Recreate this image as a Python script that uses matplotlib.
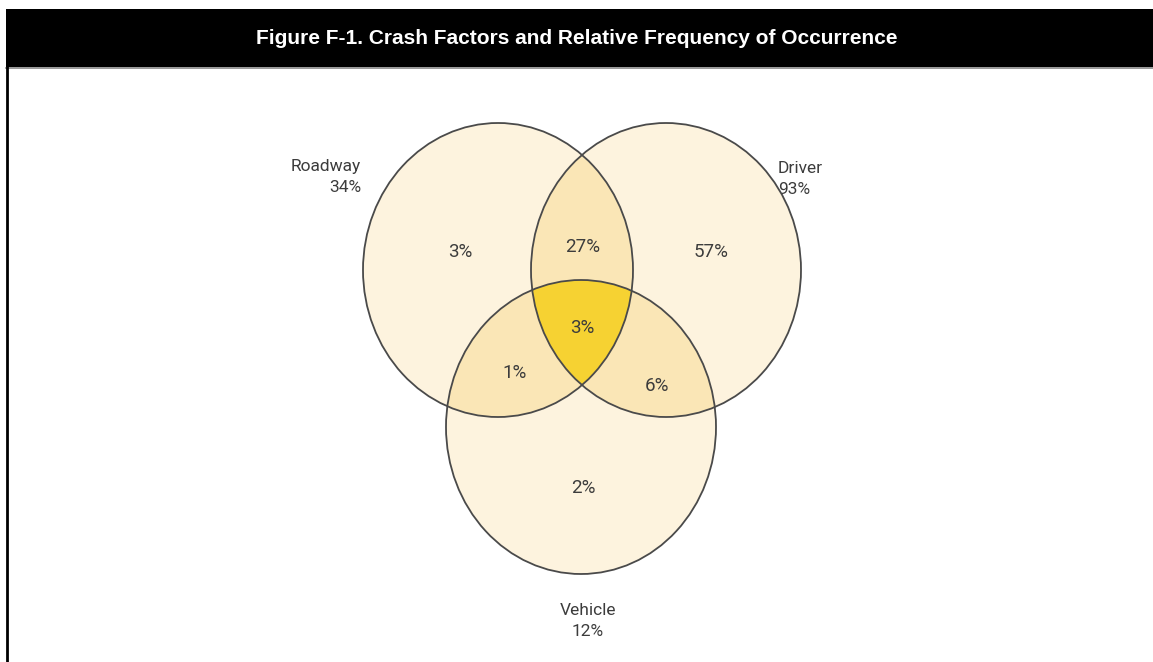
import matplotlib
matplotlib.use("Agg")
import matplotlib.pyplot as plt
import numpy as np
from matplotlib.patches import Ellipse, Polygon, Rectangle

# data
set_names = ['Roadway', 'Driver', 'Vehicle']
set_pct = [34, 93, 12]
# regions: tuple of set indices -> share of crashes (%)
region_keys = [(0,), (1,), (2,), (0, 1), (0, 2), (1, 2), (0, 1, 2)]
region_pct = [3, 57, 2, 27, 1, 6, 3]

title = 'Figure F-1. Crash Factors and Relative Frequency of Occurrence'

W, H = 1153, 662
centers = [(498, 270), (666, 270), (581, 427)]
RX, RY = 135, 147

pale = '#FDF3DE'
mid = '#FAE6B6'
strong = '#F6D232'
edge = '#4a4a4a'
txt = '#3c3c3c'


def ellipse_pts(c, n=1440):
    t = np.linspace(0, 2 * np.pi, n, endpoint=False)
    return np.column_stack([c[0] + RX * np.cos(t), c[1] + RY * np.sin(t)])


def inside(pts, c):
    return ((pts[:, 0] - c[0]) / RX) ** 2 + ((pts[:, 1] - c[1]) / RY) ** 2 <= 1 + 1e-9


def region_poly(idx):
    pts = []
    for i in idx:
        p = ellipse_pts(centers[i])
        keep = np.ones(len(p), bool)
        for j in idx:
            if j != i:
                keep &= inside(p, centers[j])
        pts.append(p[keep])
    pts = np.vstack(pts)
    m = pts.mean(axis=0)
    order = np.argsort(np.arctan2(pts[:, 1] - m[1], pts[:, 0] - m[0]))
    return pts[order]


fig = plt.figure(figsize=(W / 100, H / 100), dpi=100)
ax = fig.add_axes([0, 0, 1, 1])
ax.set_xlim(0, W)
ax.set_ylim(H, 0)
ax.axis('off')

# header bar and frame
ax.add_patch(Rectangle((6, 9), W - 6, 58, facecolor='black', edgecolor='none'))
ax.plot([6, W], [67.5, 67.5], color='#888888', lw=1.2)
ax.plot([7, 7], [67, H], color='black', lw=2)
ax.text(577, 38, title, color='white', fontsize=15, fontweight='bold',
        family='Liberation Sans', ha='center', va='center')

# fills
for c in centers:
    ax.add_patch(Ellipse(c, 2 * RX, 2 * RY, facecolor=pale, edgecolor='none'))
for key in [(0, 1), (0, 2), (1, 2)]:
    ax.add_patch(Polygon(region_poly(key), closed=True, facecolor=mid,
                         edgecolor='none'))
ax.add_patch(Polygon(region_poly((0, 1, 2)), closed=True, facecolor=strong,
                     edgecolor='none'))
for c in centers:
    ax.add_patch(Ellipse(c, 2 * RX, 2 * RY, facecolor='none', edgecolor=edge,
                         lw=1.3))

# region labels
label_xy = {(0,): (460, 252), (1,): (711, 252), (2,): (583, 488),
            (0, 1): (583, 247), (0, 2): (515, 373), (1, 2): (657, 386),
            (0, 1, 2): (582, 328)}
for key, v in zip(region_keys, region_pct):
    x, y = label_xy[key]
    ax.text(x, y, f'{v}%', color=txt, fontsize=13.5, family='Roboto',
            ha='center', va='center')

# set labels
name_pos = [(361, 177, 'right'), (778, 179, 'left'), (588, 621, 'center')]
for (x, y, ha), name, p in zip(name_pos, set_names, set_pct):
    ax.text(x, y, f'{name}\n{p}%', color=txt, fontsize=12.5, family='Roboto',
            ha=ha, va='center', linespacing=1.55,
            multialignment='center' if ha == 'center' else ha)

fig.savefig('out.png', dpi=100)
